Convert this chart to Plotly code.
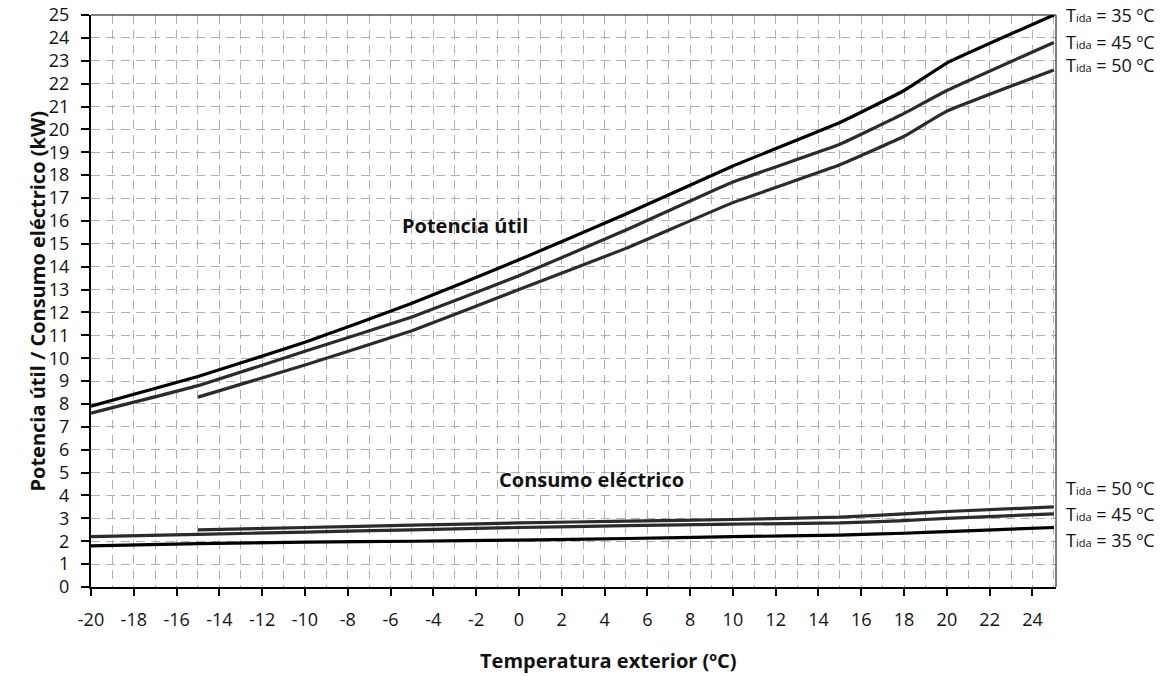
import plotly.graph_objects as go

# Potencia útil (kW)
temp_35 = [-20, -15, -10, -5, 0, 5, 10, 15, 18, 20, 25]
pot_35 = [7.9, 9.2, 10.7, 12.4, 14.3, 16.3, 18.4, 20.3, 21.7, 22.9, 25.0]
temp_45 = [-20, -15, -10, -5, 0, 5, 10, 15, 18, 20, 25]
pot_45 = [7.6, 8.8, 10.3, 11.8, 13.6, 15.6, 17.7, 19.35, 20.7, 21.7, 23.8]
temp_50 = [-15, -10, -5, 0, 5, 10, 15, 18, 20, 25]
pot_50 = [8.3, 9.7, 11.2, 13.0, 14.8, 16.8, 18.45, 19.7, 20.8, 22.6]

# Consumo eléctrico (kW)
cons_35 = [1.8, 1.9, 1.96, 2.0, 2.05, 2.12, 2.2, 2.27, 2.35, 2.42, 2.6]
cons_45 = [2.2, 2.3, 2.4, 2.5, 2.6, 2.68, 2.75, 2.8, 2.9, 3.0, 3.2]
cons_50 = [2.5, 2.6, 2.7, 2.8, 2.88, 2.95, 3.05, 3.2, 3.3, 3.5]

x_ticks = list(range(-20, 25, 2))
y_ticks = list(range(0, 26, 1))

SUB = '<span style="font-size:11px">ida</span>'
label_35 = "T" + SUB + " = 35 ºC"
label_45 = "T" + SUB + " = 45 ºC"
label_50 = "T" + SUB + " = 50 ºC"

FONT = "Open Sans"
fig = go.Figure()

series = [
    (temp_35, pot_35, "#000000"),
    (temp_45, pot_45, "#2b2b2b"),
    (temp_50, pot_50, "#2b2b2b"),
    (temp_35, cons_35, "#000000"),
    (temp_45, cons_45, "#2b2b2b"),
    (temp_50, cons_50, "#2b2b2b"),
]
for xs, ys, c in series:
    fig.add_trace(go.Scatter(x=xs, y=ys, mode="lines",
                             line=dict(color=c, width=3.2, shape="spline", smoothing=0.3),
                             showlegend=False, hoverinfo="skip"))

fig.update_layout(
    width=1168, height=677,
    margin=dict(l=91, r=112, t=15, b=90),
    paper_bgcolor="white", plot_bgcolor="white",
    font=dict(family=FONT, color="#111", size=18),
    showlegend=False,
)
fig.update_xaxes(
    range=[-20, 25.1], tickvals=x_ticks, ticktext=[str(v) for v in x_ticks],
    showline=True, linecolor="black", linewidth=2,
    ticks="outside", ticklen=7, tickwidth=2, tickcolor="black",
    ticklabelstandoff=8, automargin=False,
    showgrid=True, gridcolor="#b0b0b0", gridwidth=1, griddash="9px,6px",
    minor=dict(dtick=1, tick0=0, showgrid=True, gridcolor="#b0b0b0", gridwidth=1, griddash="9px,6px"),
    zeroline=False, tickfont=dict(size=18, family=FONT),
)
fig.update_yaxes(
    range=[0, 25], tickvals=y_ticks, ticktext=[str(v) for v in y_ticks],
    showline=True, linecolor="black", linewidth=2,
    ticks="outside", ticklen=8, tickwidth=2, tickcolor="black",
    ticklabelstandoff=8, automargin=False,
    showgrid=True, gridcolor="#b0b0b0", gridwidth=1, griddash="9px,6px",
    zeroline=False, tickfont=dict(size=18, family=FONT),
)

# top & right frame lines (thin)
fig.add_shape(type="line", xref="paper", yref="paper", x0=0, x1=1, y0=1, y1=1,
              line=dict(color="black", width=1))
fig.add_shape(type="line", xref="paper", yref="paper", x0=1, x1=1, y0=0, y1=1,
              line=dict(color="black", width=1))

RX = 1.008
annots = [
    dict(x=-2.5, y=15.8, text="<b>Potencia útil</b>", xref="x", yref="y", font=dict(size=20)),
    dict(x=3.4, y=4.7, text="<b>Consumo eléctrico</b>", xref="x", yref="y", font=dict(size=20)),
    dict(x=RX, y=25.0, text=label_35, xref="paper", yref="y", xanchor="left", font=dict(size=18)),
    dict(x=RX, y=23.8, text=label_45, xref="paper", yref="y", xanchor="left", font=dict(size=18)),
    dict(x=RX, y=22.8, text=label_50, xref="paper", yref="y", xanchor="left", font=dict(size=18)),
    dict(x=RX, y=4.33, text=label_50, xref="paper", yref="y", xanchor="left", font=dict(size=18)),
    dict(x=RX, y=3.19, text=label_45, xref="paper", yref="y", xanchor="left", font=dict(size=18)),
    dict(x=RX, y=2.05, text=label_35, xref="paper", yref="y", xanchor="left", font=dict(size=18)),
    dict(x=0.5, y=-0.128, xref="paper", yref="paper", xshift=35,
         text="<b>Temperatura exterior (ºC)</b>", font=dict(size=20), yanchor="middle"),
    dict(x=-0.0725, y=0.5, xref="paper", yref="paper", textangle=-90,
         text="<b>Potencia útil / Consumo eléctrico (kW)</b>", font=dict(size=20)),
]
for a in annots:
    a.setdefault("showarrow", False)
    fig.add_annotation(**a)

fig.write_html("out.html", config={"displayModeBar": False},
               post_script="document.body.style.margin='0';document.body.style.padding='0';")
